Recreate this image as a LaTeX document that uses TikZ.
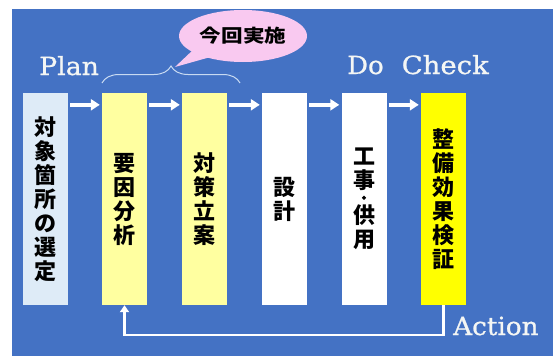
\documentclass[tikz,border=0pt]{standalone}
\usepackage{fontspec}
\newfontfamily\jp{Noto Sans CJK JP}
\newfontfamily\jpdot{Noto Sans CJK JP}[FakeBold=2.5]
\newfontfamily\lat{DejaVu Serif}[FakeBold=0.8]
\usetikzlibrary{arrows.meta,shapes.geometric,decorations.pathreplacing,calc}
\definecolor{bgblue}{RGB}{68,114,196}
\definecolor{paleblue}{RGB}{222,235,247}
\definecolor{paleyellow}{RGB}{255,255,160}
\definecolor{brightyellow}{RGB}{255,255,0}
\definecolor{bracecol}{RGB}{200,218,242}
\definecolor{bubblepink}{RGB}{249,201,240}
\definecolor{labelwhite}{RGB}{244,246,244}
\begin{document}
\begin{tikzpicture}[x=1pt,y=-1pt,
  stage/.style={minimum width=45pt, minimum height=212pt, inner sep=0pt, align=center,
    font=\jp\bfseries\fontsize{22}{24}\selectfont, text=black},
  flow/.style={white, line width=3.5pt, -{Triangle[length=9pt,width=11pt]}},
  feedback/.style={white, line width=2.5pt, -{Triangle[length=7pt,width=9pt]}},
  phase/.style={font=\lat\fontsize{25}{30}\selectfont, text=labelwhite, inner sep=0pt, anchor=base west},
  bubble/.style={ellipse, fill=bubblepink, minimum width=128pt, minimum height=52pt, inner sep=0pt},
  bubbletext/.style={font=\jp\bfseries\fontsize{18}{20}\selectfont, text=black, inner sep=0pt},
  bracestyle/.style={bracecol, line width=1pt, decorate, decoration={brace, amplitude=17pt, aspect=0.5}}
]
\useasboundingbox (0,0) rectangle (553,356);
\fill[white] (0,0) rectangle (553,356);
\fill[bgblue] (12,9) rectangle (553,356);

% stages
\node[stage, fill=paleblue]    (b1) at (45.5,199)  {対\\象\\箇\\所\\の\\選\\定};
\node[stage, fill=paleyellow]  (b2) at (124.5,199) {要\\因\\分\\析};
\node[stage, fill=paleyellow]  (b3) at (204.5,199) {対\\策\\立\\案};
\node[stage, fill=white]       (b4) at (284.5,199) {設\\計};
\node[stage, fill=white]       (b5) at (364,199)   {工\\事\\[-10pt]{\jpdot\fontsize{13}{24}\selectfont ・}\\[-3pt]供\\用};
\node[stage, fill=brightyellow](b6) at (443.5,199) {整\\備\\効\\果\\検\\証};

% flow arrows
\draw[flow] ($(b1.north east)+(2,12)$) -- ($(b2.north west)+(-2,12)$);
\draw[flow] ($(b2.north east)+(2,12)$) -- ($(b3.north west)+(-2,12)$);
\draw[flow] ($(b3.north east)+(2,12)$) -- ($(b4.north west)+(-2,12)$);
\draw[flow] ($(b4.north east)+(2,12)$) -- ($(b5.north west)+(-2,12)$);
\draw[flow] ($(b5.north east)+(2,12)$) -- ($(b6.north west)+(-2,12)$);

% feedback
\draw[feedback] (b6.south) -- ++(0,30) -| (b2.south);

% phase labels
\node[phase] (plan) at (39,75) {\scalebox{1.07}[1]{Plan}};
\node[phase] (do) at (347,74) {\scalebox{1.04}[1]{Do}\hspace{18pt}\scalebox{1.1}[1]{Check}};
\node[phase] (act) at (453,335) {\scalebox{1.05}[1]{Action}};

% brace
\coordinate (brL) at (102,83);
\coordinate (brR) at (240,83);
\draw[bracestyle] (brL) -- (brR);

% bubble
\coordinate (tip) at (175,67);
\fill[bubblepink] (194,49) -- (tip) -- (214,56) -- (205,45) -- cycle;
\node[bubble] (bub) at (243,36) {};
\node[bubbletext] (bt) at (bub.center) {\scalebox{1.2}[1]{今回実施}};
\end{tikzpicture}
\end{document}
